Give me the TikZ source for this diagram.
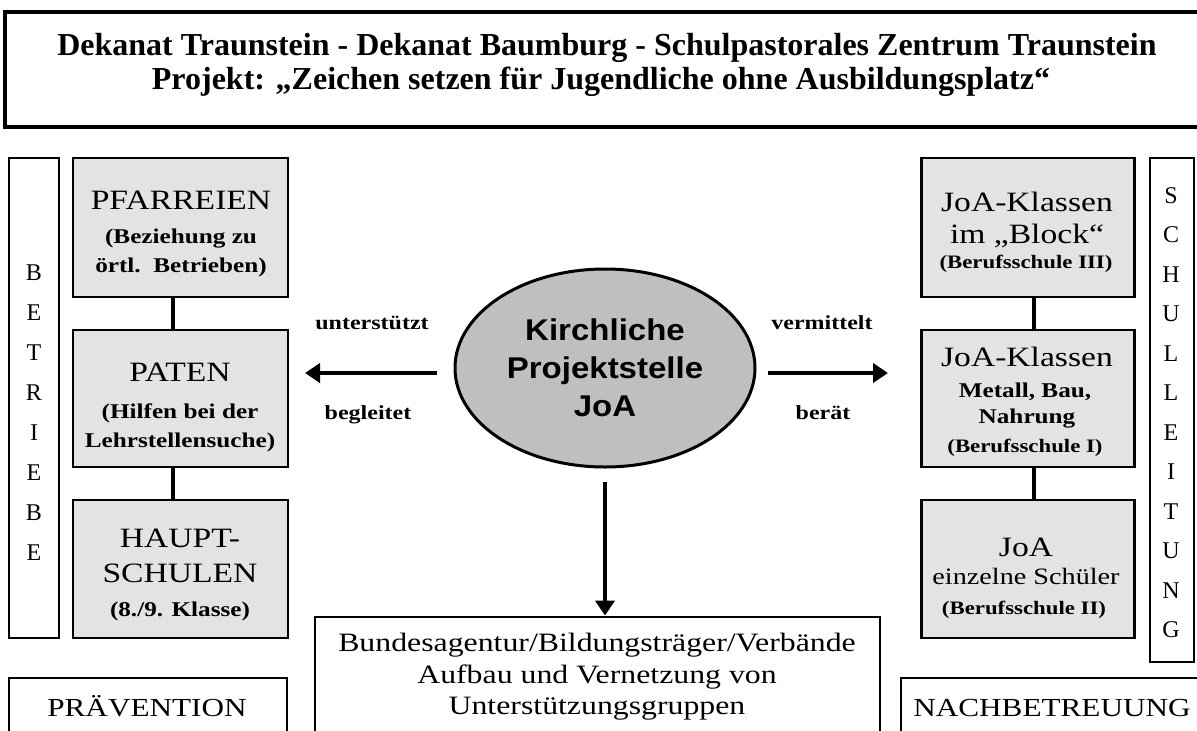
\documentclass[tikz,border=0pt]{standalone}
\usepackage{fontspec}
\setmainfont{Liberation Serif}
\newfontfamily\widefont{Liberation Serif}[FakeStretch=1.2]
\newfontfamily\sansw{Liberation Sans}[FakeStretch=1.1]
\usetikzlibrary{arrows.meta,shapes.geometric}
\newcommand{\bigtxt}{\widefont\fontsize{28}{32}\selectfont}
\newcommand{\subtxt}{\widefont\bfseries\fontsize{21}{29}\selectfont}
\newcommand{\subsm}{\widefont\bfseries\fontsize{19}{29}\selectfont}
\tikzset{
  frame/.style={draw, line width=2.8pt, inner sep=0pt},
  gbox/.style={frame, fill=black!11, minimum width=215pt},
  col/.style={frame, fill=white},
  conn/.style={line width=3.5pt},
  arr/.style={line width=4.5pt, -{Triangle[length=15pt,width=19pt]}},
  tl/.style={inner sep=0pt, anchor=base},
  lbl/.style={tl, font=\widefont\bfseries\fontsize{20}{20}\selectfont},
  letters/.style={align=center, inner sep=0pt},
}
\begin{document}
\begin{tikzpicture}[x=1pt,y=-1pt]
\useasboundingbox (0,0) rectangle (1197,731);
\clip (0,0) rectangle (1197,731);
\fill[white] (0,0) rectangle (1197,731);
% title
\node[frame, line width=3.2pt, minimum width=1215pt, minimum height=115pt] (title) at (612.5,69.5) {};
\node[tl, font=\bfseries\fontsize{32}{34}\selectfont] (t1) at (607,55.6)
  {Dekanat Traunstein - Dekanat Baumburg - Schulpastorales Zentrum Traunstein};
\node[tl, font=\bfseries\fontsize{32}{34}\selectfont] (t2) at (601,89.6)
  {Projekt: „Zeichen setzen für Jugendliche ohne Ausbildungsplatz“};
% left column
\node[col, minimum width=50pt, minimum height=480pt] (betr) at (34,398) {};
\node[letters, font=\fontsize{24}{39.9}\selectfont] (betrtext) at (34,412.5) {B\\E\\T\\R\\I\\E\\B\\E};
\node[gbox, minimum height=139pt] (pf) at (180.5,227.5) {};
\node[tl, font=\bigtxt] (pf1) at (181,209.2) {PFARREIEN};
\node[tl, font=\subtxt] (pf2) at (181,243.9) {(Beziehung zu};
\node[tl, font=\subtxt] (pf3) at (181,272.9) {örtl.\ \ Betrieben)};
\node[gbox, minimum height=137pt] (pa) at (180.5,398.5) {};
\node[tl, font=\bigtxt] (pa1) at (180,381.2) {PATEN};
\node[tl, font=\subtxt] (pa2) at (180,418.9) {(Hilfen bei der};
\node[tl, font=\subtxt] (pa3) at (180,447.9) {Lehrstellensuche)};
\node[gbox, minimum height=138pt] (hs) at (180.5,569) {};
\node[tl, font=\bigtxt] (hs1) at (180,547.2) {HAUPT-};
\node[tl, font=\bigtxt] (hs2) at (180,582.2) {SCHULEN};
\node[tl, font=\subtxt] (hs3) at (180,616.9) {(8./9. Klasse)};
\draw[conn] (pf.south -| 173,0) -- (pa.north -| 173,0);
\draw[conn] (pa.south -| 173,0) -- (hs.north -| 173,0);
% right column
\node[col, minimum width=44pt, minimum height=504pt] (schul) at (1172,410) {};
\node[letters, font=\fontsize{24}{39.5}\selectfont] (schultext) at (1171,412.5) {S\\C\\H\\U\\L\\L\\E\\I\\T\\U\\N\\G};
\node[gbox, minimum width=213pt, minimum height=139pt] (jb1) at (1028,227.5) {};
\node[tl, font=\bigtxt] (jb11) at (1027,211.2) {JoA-Klassen};
\node[tl, font=\bigtxt] (jb12) at (1027,243.2) {im „Block“};
\node[tl, font=\subsm] (jb13) at (1026,268.3) {(Berufsschule III)};
\node[gbox, minimum width=213pt, minimum height=137pt] (jb2) at (1028,398.5) {};
\node[tl, font=\bigtxt] (jb21) at (1027,366.2) {JoA-Klassen};
\node[tl, font=\subtxt] (jb22) at (1025,397.9) {Metall, Bau,};
\node[tl, font=\subtxt] (jb23) at (1027,423.9) {Nahrung};
\node[tl, font=\subsm] (jb24) at (1025,452.3) {(Berufsschule I)};
\node[gbox, minimum width=213pt, minimum height=138pt] (jb3) at (1028,569) {};
\node[tl, font=\bigtxt] (jb31) at (1026,556.2) {JoA};
\node[tl, font=\widefont\fontsize{23.5}{28}\selectfont] (jb32) at (1026,584.8) {einzelne Schüler};
\node[tl, font=\subsm] (jb33) at (1024,614.3) {(Berufsschule II)};
\draw[conn] (jb1.south -| 1034,0) -- (jb2.north -| 1034,0);
\draw[conn] (jb2.south -| 1034,0) -- (jb3.north -| 1034,0);
% centre
\node[ellipse, draw, line width=3pt, fill=black!25, minimum width=300pt, minimum height=198pt, align=center,
      font=\sansw\bfseries\fontsize{30}{38}\selectfont] (kp) at (605,368) {Kirchliche\\Projektstelle\\JoA};
\coordinate (la) at (437,373);
\coordinate (lb) at (305,373);
\coordinate (ra) at (768,373);
\coordinate (rb) at (888,373);
\draw[arr] (la) -- (lb);
\draw[arr] (ra) -- (rb);
\node[lbl] (unt) at (372,329.6) {unterstützt};
\node[lbl] (beg) at (368,419.6) {begleitet};
\node[lbl] (ver) at (822,329.6) {vermittelt};
\node[lbl] (ber) at (823,419.6) {berät};
% bottom
\node[frame, fill=white, minimum width=565pt, minimum height=150pt] (bund) at (597.5,692) {};
\coordinate (da) at (605,482);
\draw[arr] (da) -- (bund.north -| da);
\node[tl, font=\widefont\fontsize{26.5}{31}\selectfont] (bt1) at (597,651.7) {Bundesagentur/Bildungsträger/Verbände};
\node[tl, font=\widefont\fontsize{26.5}{31}\selectfont] (bt2) at (597,683.7) {Aufbau und Vernetzung von};
\node[tl, font=\widefont\fontsize{26.5}{31}\selectfont] (bt3) at (597,714.7) {Unterstützungsgruppen};
\node[frame, fill=white, minimum width=278pt, minimum height=100pt] (prae) at (148,728) {};
\node[tl, font=\widefont\fontsize{26}{30}\selectfont] (praetext) at (147,716.6) {PRÄVENTION};
\node[frame, fill=white, minimum width=310pt, minimum height=100pt] (nach) at (1056,728) {};
\node[tl, font=\widefont\fontsize{26}{30}\selectfont] (nachtext) at (1052,716.6) {NACHBETREUUNG};
\end{tikzpicture}
\end{document}
